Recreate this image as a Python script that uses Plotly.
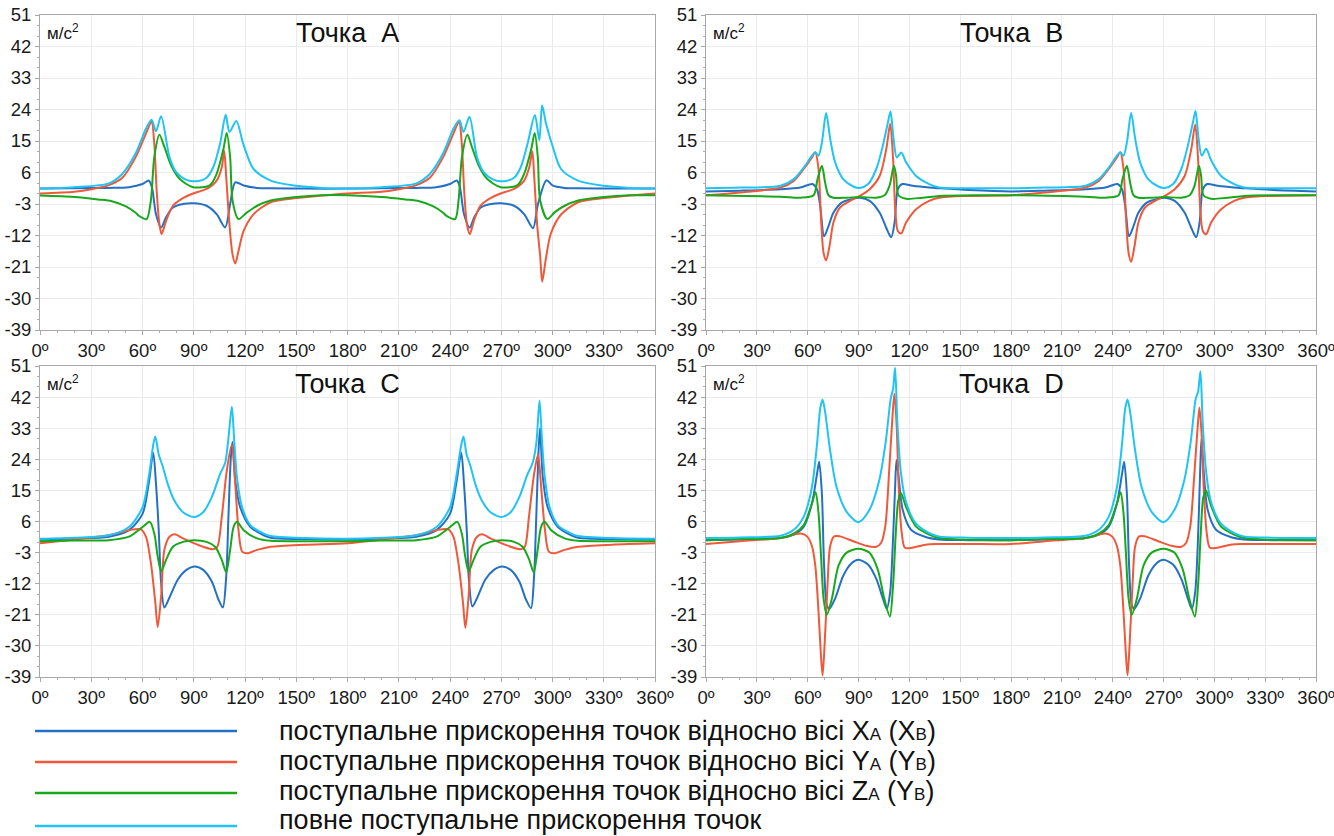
import plotly.graph_objects as go

# ---------------- DATA (angle in degrees, acceleration m/s^2) ----------------
# Panel A
A_blue_ang = [0, 20, 40, 52, 60, 63.6, 65.5, 67.9, 70.9, 73.8, 77.8, 83.7, 90, 97.5, 103.4, 108.4, 111.3, 114.3, 119.2, 127, 135, 155,
              180, 200, 220, 232, 240, 244, 245.8, 248.2, 251.5, 254.2, 258, 264, 270, 277.5, 283.4, 288.6, 291.5, 296.5, 300, 307, 315, 335, 360]
A_blue = [1.4, 1.5, 1.6, 1.8, 2.7, 3.7, 1.8, -5.9, -9.7, -6.8, -4, -3, -2.8, -3.5, -5.9, -9.7, -3, 3.2, 2.3, 1.6, 1.5, 1.4,
          1.4, 1.5, 1.6, 1.8, 2.7, 3.7, 1.8, -5.9, -9.7, -6.8, -4, -3, -2.8, -3.5, -5.9, -9.9, -3, 3.8, 2.3, 1.6, 1.5, 1.4, 1.4]

A_red_ang = [0, 20, 30, 40.3, 48.2, 56, 62, 65.3, 66.9, 68.3, 69.9, 71.2, 73.8, 77.8, 82.7, 89.6, 97.5, 103.4, 106.4, 107.8, 109, 110.9, 112.7, 114.3, 116.2, 119.2, 125.1, 135, 150, 165,
             180, 200, 210, 220.3, 228.2, 236, 242, 245.3, 246.9, 248.3, 249.9, 251.6, 254, 257.8, 262.7, 269.6, 277.5, 283.4, 286.4, 288.2, 289.3, 291, 292.8, 294, 296, 299, 305, 315, 330, 345, 360]
A_red = [0.0, 0.5, 1.2, 2.4, 4.5, 10.4, 17.1, 20.5, 14.2, 0.8, -8.8, -11.6, -7.8, -3.5, -1.6, 0, 1.3, 3.7, 7.5, 12.3, 4.7, -8.8, -17.4, -20, -16.4, -10.7, -5.9, -2.5, -1.3, -0.6,
         0.0, 0.5, 1.2, 2.4, 4.5, 10.4, 17.1, 20.5, 14.2, 0.8, -8.8, -11.6, -7.8, -3.5, -1.6, 0, 1.3, 3.7, 7.5, 12.1, 4.7, -8.8, -18, -25.2, -19, -11.5, -6, -2.5, -1.3, -0.6, 0.0]

A_green_ang = [0, 20, 34, 42, 50, 56, 58, 62.4, 64.9, 66.9, 69.9, 72.8, 76.8, 81.7, 89.6, 99.5, 103.4, 107.4, 109.3, 111.3, 112.7, 116.2, 121.2, 127.1, 135, 150, 165,
               180, 200, 214, 222, 230, 236, 238, 243, 245, 247, 250.2, 252.8, 256.8, 261.7, 269.6, 279.5, 283.4, 287.6, 289.6, 291.4, 292.8, 297, 301.2, 307.1, 315, 330, 345, 360]
A_green = [-0.6, -1.0, -1.7, -2.2, -3.6, -5.5, -6.4, -7.3, -2, 10.4, 16.8, 13.3, 8, 4.2, 1.8, 2.4, 5.6, 12.8, 17.3, 10.4, -2, -7.3, -5.4, -3.5, -2, -1.0, -0.5,
           -0.5, -1.0, -1.7, -2.2, -3.6, -5.5, -6.4, -7.3, -2, 10.4, 16.8, 13.3, 8, 4.2, 1.8, 2.4, 5.6, 12.8, 17.3, 10.4, -2, -7.3, -5.4, -3.5, -2, -1.0, -0.5, -0.5]

A_cyan_ang = [0, 20, 40.3, 48, 56, 62, 65.3, 67.9, 70.9, 75.8, 79.7, 85.7, 91.6, 97.5, 101.4, 105.4, 108.7, 110.9, 114.9, 119.2, 125, 135, 150, 165,
              180, 200, 220.3, 228, 236, 242, 245.5, 247.9, 251.4, 255.8, 259.7, 265.7, 271.6, 277.5, 281.4, 285.4, 289.7, 292.3, 293.9, 296.2, 300.2, 305, 315, 330, 345, 360]
A_cyan = [1.4, 1.8, 2.9, 5.5, 11.5, 18.5, 21.1, 17.8, 22.1, 10.4, 6.1, 3.9, 3.5, 4.5, 7.5, 14.2, 22.5, 17.6, 20.7, 13.8, 7, 3.7, 2.2, 1.6,
          1.4, 1.8, 2.9, 5.5, 11.5, 18.5, 20.9, 17.6, 21.9, 10.4, 6.1, 3.9, 3.5, 4.5, 7.5, 14.2, 22.4, 15.2, 25.2, 20, 13.3, 7, 3.7, 2.2, 1.6, 1.4]

# Panel B
B_blue_ang = [0, 20, 44, 55.7, 62.9, 65.5, 67.4, 69.7, 72.3, 75.2, 80.1, 85.9, 90.8, 96.6, 102.5, 106.8, 109.3, 111.3, 113.2, 115.8, 122, 131.7, 137.6, 155,
              180, 200, 224, 235.7, 242.9, 245.5, 247.4, 249.7, 252.3, 255.2, 260.1, 265.9, 270.8, 276.6, 282.5, 286.8, 289.3, 291.3, 293.2, 295.8, 302, 311.7, 317.6, 335, 360]
B_blue = [0.6, 0.8, 1.2, 1.7, 2.7, 1.2, -3.6, -12.2, -9.3, -5.5, -2.6, -1.6, -1.2, -2.1, -5.5, -10.3, -12.5, -8.3, 1.2, 2.7, 2.2, 1.7, 1.5, 1.0,
          0.6, 0.8, 1.2, 1.7, 2.7, 1.2, -3.6, -12.2, -9.3, -5.5, -2.6, -1.6, -1.2, -2.1, -5.5, -10.3, -12.5, -8.3, 1.2, 2.7, 2.2, 1.7, 1.5, 1.0, 0.6]

B_red_ang = [0, 20, 44, 51.8, 57.7, 62.5, 64.5, 66.4, 67.8, 69.4, 70.9, 72.9, 75.2, 79.1, 85, 90.8, 96.6, 102.5, 106.4, 108.7, 110.3, 111.7, 113.2, 115.2, 118.1, 124, 131.7, 137.6, 155,
             180, 200, 224, 231.8, 237.7, 242.5, 244.5, 246.4, 247.8, 249.4, 250.9, 252.9, 255.2, 259.1, 265, 270.8, 276.6, 282.5, 286.4, 288.7, 290.3, 291.7, 293.2, 295.2, 298.1, 304, 311.7, 317.6, 335, 360]
B_red = [-0.5, 0.3, 1.7, 3.6, 7, 10.3, 11.8, 7, -6.4, -17, -19.1, -15, -8.3, -4, -2.1, -0.7, 1.2, 5, 12.7, 19.9, 10.8, -4.5, -10.7, -11.4, -8.3, -4.5, -2.1, -1.2, -0.7,
         -0.5, 0.3, 1.7, 3.6, 7, 10.3, 11.8, 7, -6.4, -17, -19.5, -15, -8.3, -4, -2.1, -0.7, 1.2, 5, 12.7, 19.7, 10.8, -4.5, -10.7, -11.6, -8.3, -4.5, -2.1, -1.2, -0.7, -0.5]

B_green_ang = [0, 44, 55.7, 63.5, 65.8, 68.4, 70.3, 72.3, 75.2, 83, 90.8, 100.5, 105.4, 108.3, 110.9, 112.2, 113.6, 118.1, 127.8, 137.6, 160,
               180, 224, 235.7, 243.5, 245.8, 248.4, 250.3, 252.3, 255.2, 263, 270.8, 280.5, 285.4, 288.3, 290.9, 292.2, 293.6, 298.1, 307.8, 317.6, 340, 360]
B_green = [-0.5, -0.9, -1.2, -0.5, 4.1, 7.9, 3.1, -0.5, -1.2, -1.2, -1.0, -1.2, -0.5, 2.2, 7.9, 5, -0.5, -1.5, -1.2, -0.7, -0.5,
           -0.5, -0.9, -1.2, -0.5, 4.1, 7.9, 3.1, -0.5, -1.2, -1.2, -1.0, -1.2, -0.5, 2.2, 7.9, 5, -0.5, -1.5, -1.2, -0.7, -0.5, -0.5]

B_cyan_ang = [0, 20, 44, 51.8, 57.7, 62.5, 64.5, 66.4, 68.4, 70.9, 73.3, 76.2, 81, 86.9, 90.8, 95.7, 100.5, 104.4, 107.4, 108.9, 110.7, 112.6, 115.2, 118.1, 124, 131.7, 137.6, 155,
              180, 200, 224, 231.8, 237.7, 242.5, 244.5, 246.4, 248.4, 250.9, 253.3, 256.2, 261, 266.9, 270.8, 275.7, 280.5, 284.4, 287.4, 288.9, 290.7, 292.6, 295.2, 298.1, 304, 311.7, 317.6, 335, 360]
B_cyan = [1.5, 1.7, 2.2, 4.1, 7.4, 10.8, 11.8, 10.8, 14.6, 23, 15.6, 8.9, 4.1, 2, 1.6, 2.7, 7, 13.7, 20.4, 23.4, 15.6, 10.3, 11.7, 8.9, 5, 2.7, 1.7, 1.5,
          1.5, 1.7, 2.2, 4.1, 7.4, 10.8, 11.8, 10.8, 14.6, 23, 15.6, 8.9, 4.1, 2, 1.6, 2.7, 7, 13.7, 20.4, 23.6, 15.6, 10.8, 12.8, 9.5, 5, 2.7, 1.7, 1.5, 1.5]

# Panel C
C_blue_ang = [0, 20, 40.3, 52.1, 60, 63.6, 66.3, 67.9, 69.5, 70.9, 72.8, 75.8, 80.7, 85.7, 90.6, 95.5, 100.5, 104.4, 107, 109, 110.3, 111.7, 112.7, 114.3, 117.2, 123.2, 131, 135, 155,
              180, 200, 220.3, 232.1, 240, 243.6, 246.6, 248.2, 249.8, 251.2, 253.1, 256, 260.7, 265.7, 270.6, 275.5, 280.5, 284.4, 287.4, 289.2, 290.5, 291.8, 292.7, 294.3, 297.2, 303.2, 311, 315, 335, 360]
C_blue = [0.8, 1.1, 1.6, 3.5, 8.2, 16.8, 25.9, 16.8, 3.5, -11.8, -18.9, -16, -10.8, -8, -7, -8, -11.3, -16.5, -18.9, -9.9, 7.3, 24.4, 29, 17.8, 10.1, 4.4, 2, 1.3, 0.9,
          0.8, 1.1, 1.6, 3.5, 8.2, 16.8, 25.9, 16.8, 3.5, -11.8, -18.6, -16, -10.8, -8, -7, -8, -11.3, -16.5, -19.1, -9.9, 7.3, 26, 33, 19, 10.1, 4.4, 2, 1.3, 0.9, 0.8]

C_red_ang = [0, 20, 40.3, 52.1, 59, 62, 64.9, 67.5, 68.9, 70.9, 72.8, 75.8, 78.8, 83.7, 89.6, 95.5, 101.4, 103.8, 106.4, 109.3, 112.3, 114.3, 116.2, 118.3, 121.2, 127.1, 135, 155,
             180, 200, 220.3, 232.1, 239, 242, 244.9, 247.6, 249, 250.9, 252.8, 255.8, 258.8, 263.7, 269.6, 275.5, 281.4, 283.8, 286.2, 289, 291.5, 293.5, 295.6, 297.8, 300.8, 307.1, 315, 335, 360]
C_red = [-0.3, 0.8, 2, 3.5, 3.7, 1.6, -6, -17.5, -24.6, -15.6, -2.2, 1.6, 2.3, 1.1, -0.2, -1.3, -2, -1.3, 7.3, 20.6, 28.2, 16.8, 3.5, -2.7, -3.2, -2.2, -1.3, -0.7,
         -0.3, 0.8, 2, 3.5, 3.7, 1.6, -6, -17.5, -24.8, -15.6, -2.2, 1.6, 2.3, 1.1, -0.2, -1.3, -2, -1.3, 7.3, 19, 25.4, 15, 3.5, -2.7, -3.2, -2.2, -1.3, -0.7, -0.3]

C_green_ang = [0, 20, 40.3, 52.1, 60, 64.3, 66.9, 68.9, 70.9, 73.8, 77.8, 83.7, 90, 97.5, 102.5, 106.4, 109, 111.3, 113.3, 115.3, 119.2, 127.1, 135, 155,
               180, 200, 220.3, 232.1, 240, 244.3, 246.9, 248.9, 250.9, 253.8, 257.8, 263.7, 270, 277.5, 282.5, 286.4, 289, 291.3, 293.3, 295.3, 299.2, 307.1, 315, 335, 360]
C_green = [0.3, 0.5, 0.6, 1.6, 4.4, 5.9, 2.5, -4.1, -8.4, -5.1, -1.3, 0.1, 0.6, 0.1, -1.3, -5.1, -8.7, -2.2, 4.4, 5.9, 3.5, 1.1, 0.4, 0.3,
           0.3, 0.5, 0.6, 1.6, 4.4, 5.9, 2.5, -4.1, -8.4, -5.1, -1.3, 0.1, 0.6, 0.1, -1.3, -5.1, -8.7, -2.2, 4.4, 5.9, 3.5, 1.1, 0.4, 0.3, 0.3]

C_cyan_ang = [0, 20, 40.3, 52.1, 60, 63.9, 66.3, 67.5, 69.5, 71.8, 74.8, 78.7, 83.7, 90, 95.5, 100.5, 105.4, 108.4, 110.3, 112.3, 113.7, 115.3, 118.3, 123.2, 131, 135, 155,
              180, 200, 220.3, 232.1, 240, 243.9, 246.6, 247.9, 249.7, 252, 254.8, 258.7, 263.7, 270, 275.5, 280.5, 285.4, 288.4, 290.6, 292.4, 293.9, 295.5, 298.3, 303.2, 311, 315, 335, 360]
C_cyan = [1.0, 1.3, 2.0, 4.4, 10.1, 19.7, 28.2, 30.6, 25.4, 22, 16.8, 12, 8.7, 7.3, 8.7, 13, 19.7, 23, 30.1, 39.2, 29.2, 18.7, 10.1, 4.9, 2.5, 1.8, 1.2,
          1.0, 1.3, 2.0, 4.4, 10.1, 19.7, 28.2, 30.6, 25.4, 22, 16.8, 12, 8.7, 7.3, 8.7, 13, 19.7, 23, 29, 41, 29, 18.7, 10.1, 4.9, 2.5, 1.8, 1.2, 1.0]

# Panel D
D_blue_ang = [0, 20, 44, 51.8, 57.7, 62.5, 65.5, 66.8, 68.4, 69.7, 71.3, 72.8, 76.2, 81, 85.9, 90, 95.5, 100.5, 104.4, 106.7, 108.7, 110.2, 111.6, 112.4, 113.5, 116.1, 121, 129.6, 137.3, 155,
              180, 200, 224, 231.8, 237.7, 242.5, 245.5, 246.8, 248.4, 249.7, 251.3, 252.8, 256.2, 261, 265.9, 270, 275.5, 280.5, 284.4, 286.7, 288.7, 290.2, 291.6, 292.4, 293.5, 296.1, 301, 309.6, 317.3, 335, 360]
D_blue = [0.6, 0.8, 1.2, 2.2, 4.5, 11.2, 19.7, 23.3, 14, -6.8, -18.2, -19.3, -16.3, -9.7, -6.1, -5.1, -6.4, -10.6, -16.3, -19.3, -14.4, -1.1, 15.9, 23.7, 19.7, 9.3, 3.6, 1.5, 0.8, 0.6,
          0.6, 0.8, 1.2, 2.2, 4.5, 11.2, 19.7, 23.3, 14, -6.8, -18.2, -19.3, -16.3, -9.7, -6.1, -5.1, -6.4, -10.6, -16.3, -19.3, -14.4, -1.1, 20, 30, 22, 9.3, 3.6, 1.5, 0.8, 0.6, 0.6]

D_red_ang = [0, 20, 44, 51.8, 55.7, 59.6, 62.5, 64.5, 66.4, 67.8, 68.8, 70, 71.7, 73.3, 75.6, 79.1, 86.9, 94.6, 100.5, 103.3, 105.8, 108.1, 110.1, 111.2, 112.4, 113.9, 115.5, 117.4, 121.7, 129.5, 137.3, 155,
             180, 200, 224, 231.8, 235.7, 239.6, 242.5, 244.5, 246.4, 247.8, 248.8, 250, 251.7, 253.3, 255.6, 259.1, 266.9, 274.6, 280.5, 283.3, 285.8, 288.1, 290.1, 291.2, 292.4, 293.9, 295.5, 297.4, 301.7, 309.5, 317.3, 335, 360]
D_red = [-0.5, 0.3, 1.2, 2.2, 2.5, 1.7, -1.1, -6.8, -20.1, -32.4, -38.6, -29.6, -12.5, -1.1, 1.7, 1.7, 0.3, -1, -1.3, -0.2, 4.6, 20.7, 36.8, 43, 34.9, 14, 2.7, -1.6, -1.6, -0.7, -0.5, -0.5,
         -0.5, 0.3, 1.2, 2.2, 2.5, 1.7, -1.1, -6.8, -20.1, -32.4, -38.5, -29.6, -12.5, -1.1, 1.7, 1.7, 0.3, -1, -1.3, -0.2, 4.6, 19, 33, 39, 32, 14, 2.7, -1.6, -1.6, -0.7, -0.5, -0.5, -0.5]

D_green_ang = [0, 20, 44, 51.8, 57.7, 62.5, 64.7, 66.4, 67.8, 69.4, 71.3, 74.3, 78.2, 83, 90, 96.4, 101.3, 105.2, 108.5, 110.4, 112, 113.5, 115.1, 118.1, 124, 131.7, 137.6, 155,
               180, 200, 224, 231.8, 237.7, 242.5, 244.7, 246.4, 247.8, 249.4, 251.3, 254.3, 258.2, 263, 270, 276.4, 281.3, 285.2, 288.5, 290.4, 292, 293.5, 295.1, 298.1, 304, 311.7, 317.6, 335, 360]
D_green = [0.6, 0.9, 1.2, 2.5, 5, 11.2, 14.5, 8.4, -3, -16.3, -21, -16.3, -6.8, -3, -1.9, -3, -7.8, -16.3, -21.5, -12.5, 2.7, 12.1, 14.2, 10.2, 4.5, 2.2, 1.2, 0.7,
           0.6, 0.9, 1.2, 2.5, 5, 11.2, 14.5, 8.4, -3, -16.3, -21, -16.3, -6.8, -3, -1.9, -3, -7.8, -16.3, -21.5, -12.5, 2.7, 13, 15, 10.5, 4.5, 2.2, 1.2, 0.7, 0.6]

D_cyan_ang = [0, 20, 44, 51.8, 57.7, 62.5, 65.5, 67.4, 68.8, 70.3, 73.3, 77.1, 83, 90, 96.4, 102.2, 106.1, 109, 110.4, 111.6, 112.9, 114.9, 117.8, 123.7, 131.5, 137.3, 155,
              180, 200, 224, 231.8, 237.7, 242.5, 245.5, 247.4, 248.8, 250.3, 253.3, 257.1, 263, 270, 276.4, 282.2, 286.1, 289, 290.4, 291.8, 293.1, 295.1, 297.8, 303.7, 311.5, 317.3, 335, 360]
D_cyan = [1.2, 1.4, 1.9, 3.6, 7.4, 15.9, 28.3, 38.7, 41.3, 37.7, 26.4, 15.9, 8.8, 5.8, 9.3, 17.8, 29.2, 41.5, 44.4, 50.5, 34.9, 20.7, 12.1, 5.5, 2.7, 1.7, 1.3,
          1.2, 1.4, 1.9, 3.6, 7.4, 15.9, 28.3, 38.7, 41.3, 37.7, 26.4, 15.9, 8.8, 5.8, 9.3, 17.8, 29.2, 41.5, 43.5, 49.5, 34.9, 20.7, 12.1, 5.5, 2.7, 1.7, 1.3, 1.2]

x_ticks = list(range(0, 361, 30))
x_ticktext = [f"{v}º" for v in x_ticks]
y_ticks = list(range(-39, 52, 9))
panel_titles = ["Точка\u00a0\u00a0A", "Точка\u00a0\u00a0B", "Точка\u00a0\u00a0C", "Точка\u00a0\u00a0D"]
unit_label = "м/с<sup>2</sup>"
legend_texts = [
    "поступальне прискорення точок відносно вісі X<span style='font-size:17px'>A</span> (X<span style='font-size:17px'>B</span>)",
    "поступальне прискорення точок відносно вісі Y<span style='font-size:17px'>A</span> (Y<span style='font-size:17px'>B</span>)",
    "поступальне прискорення точок відносно вісі Z<span style='font-size:17px'>A</span> (Y<span style='font-size:17px'>B</span>)",
    "повне поступальне прискорення точок",
]

# ---------------- STYLE ----------------
COLORS = ["#2470c4", "#f0583a", "#19a81c", "#20c4f4"]
FONT = "Liberation Sans, Arial, sans-serif"
W, H = 1334, 836


def px_x(x):
    return x / W


def px_y(y):
    return 1 - y / H


panels = [
    (A_blue_ang, A_blue, A_red_ang, A_red, A_green_ang, A_green, A_cyan_ang, A_cyan),
    (B_blue_ang, B_blue, B_red_ang, B_red, B_green_ang, B_green, B_cyan_ang, B_cyan),
    (C_blue_ang, C_blue, C_red_ang, C_red, C_green_ang, C_green, C_cyan_ang, C_cyan),
    (D_blue_ang, D_blue, D_red_ang, D_red, D_green_ang, D_green, D_cyan_ang, D_cyan),
]

xdomains = [[px_x(40), px_x(655)], [px_x(706), px_x(1316)]]
ydomains = [[px_y(330), px_y(15)], [px_y(677), px_y(366)]]

fig = go.Figure()
layout = dict(
    width=W, height=H,
    margin=dict(l=0, r=0, t=0, b=0, autoexpand=False),
    paper_bgcolor="white", plot_bgcolor="white",
    showlegend=False,
    font=dict(family=FONT, color="#1a1a1a"),
)

annotations = []
shapes = []
for i, p in enumerate(panels):
    n = i + 1
    xa = "x" if n == 1 else f"x{n}"
    ya = "y" if n == 1 else f"y{n}"
    for k in range(4):
        fig.add_trace(go.Scatter(
            x=p[2 * k], y=p[2 * k + 1], mode="lines",
            line=dict(color=COLORS[k], width=2, shape="spline", smoothing=0.8),
            xaxis=xa, yaxis=ya, hoverinfo="skip", cliponaxis=True,
        ))
    col, row = i % 2, i // 2
    common = dict(showline=True, linecolor="#a8a8a8", linewidth=1, mirror=True,
                  showgrid=True, gridcolor="#ebebeb", gridwidth=1, zeroline=False,
                  ticks="outside", ticklen=4, tickcolor="#a8a8a8", automargin=False,
                  ticklabeloverflow="allow",
                  tickfont=dict(size=18.5, family=FONT, color="#1a1a1a"))
    layout["xaxis" if n == 1 else f"xaxis{n}"] = dict(
        common, domain=xdomains[col], anchor=ya, range=[0, 360],
        tickmode="array", tickvals=x_ticks, ticktext=x_ticktext, ticklabelstandoff=0,
        minor=dict(ticks="outside", ticklen=2, dtick=10, tickcolor="#b0b0b0", showgrid=False),
    )
    layout["yaxis" if n == 1 else f"yaxis{n}"] = dict(
        common, domain=ydomains[row], anchor=xa, range=[-39, 51],
        tickmode="array", tickvals=y_ticks, ticktext=[str(v) for v in y_ticks],
        minor=dict(ticks="outside", ticklen=2, dtick=3, tick0=0, tickcolor="#b0b0b0", showgrid=False),
    )
    annotations.append(dict(
        text=panel_titles[i], xref=f"{xa} domain", yref=f"{ya} domain",
        x=0.5, y=1, xanchor="center", yanchor="top", yshift=-1, showarrow=False,
        font=dict(size=27, family=FONT, color="#111"),
    ))
    annotations.append(dict(
        text=unit_label, xref=f"{xa} domain", yref=f"{ya} domain",
        x=0, y=1, xanchor="left", yanchor="top", xshift=5, yshift=-4, showarrow=False,
        font=dict(size=17, family=FONT, color="#111"),
    ))

line_y = [731, 762, 793, 826]
text_y = [731, 761, 791, 820]
for k in range(4):
    shapes.append(dict(type="line", xref="paper", yref="paper",
                       x0=px_x(35), x1=px_x(237), y0=px_y(line_y[k]), y1=px_y(line_y[k]),
                       line=dict(color=COLORS[k], width=2.5)))
    annotations.append(dict(
        text=legend_texts[k], xref="paper", yref="paper",
        x=px_x(277), y=px_y(text_y[k]), xanchor="left", yanchor="middle", showarrow=False,
        font=dict(size=27, family=FONT, color="#111"),
    ))

layout["annotations"] = annotations
layout["shapes"] = shapes
fig.update_layout(**layout)
fig.write_html("out.html", config={"displayModeBar": False},
               post_script="document.body.style.margin='0';document.body.style.overflow='hidden';")
